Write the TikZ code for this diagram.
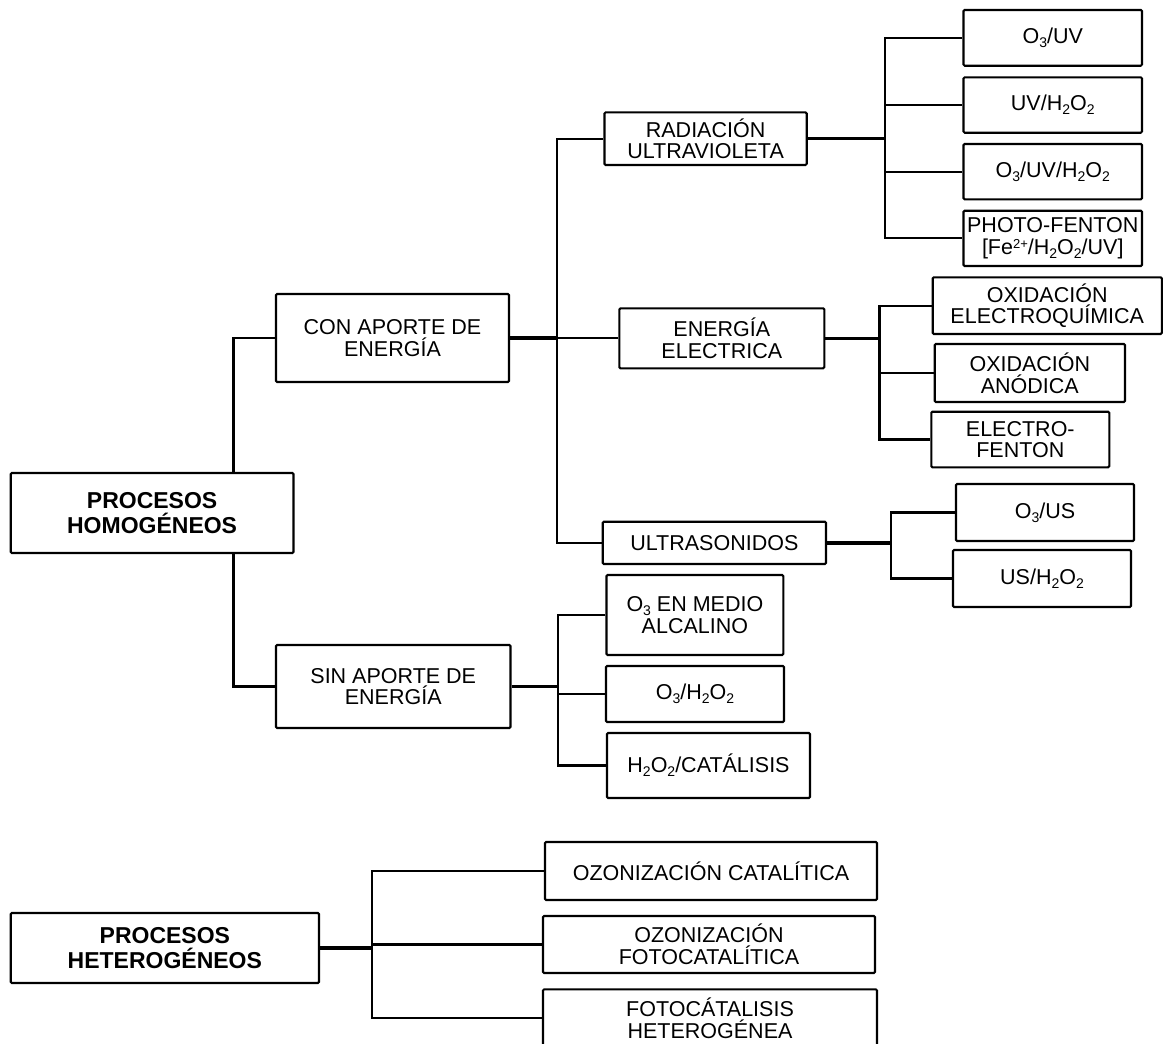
\documentclass[tikz,border=0pt]{standalone}
\usepackage{fontspec}
\setmainfont{Liberation Sans}

% chemical indices
\newcommand\subidx[1]{\raisebox{-4pt}{\fontsize{14}{14}\selectfont #1}}
\newcommand\supidx[1]{\raisebox{5.5pt}{\fontsize{13}{13}\selectfont #1}}

\tikzset{
  box/.style={draw, line width=2.1pt, rounded corners=1.2pt, align=center,
    inner sep=0pt, font=\fontsize{21.5}{21.7}\selectfont},
  boldbox/.style={box, font=\fontsize{23}{25}\selectfont\bfseries},
  link/.style={line width=2.1pt},
  trunkline/.style={line width=3.5pt},
  midlink/.style={line width=2.7pt},
}

% box given by its corners (x1,y1) and (x2,y2)
\newcommand\bx[7][box]{%
  \node[#1, minimum width={#5pt-#3pt}, minimum height={#6pt-#4pt}]
    (#2) at ({(#3+#5)/2},{(#4+#6)/2}) {#7};}

\begin{document}
\begin{tikzpicture}[x=1pt,y=-1pt]
\fill[white] (0,0) rectangle (1163,1044);
\useasboundingbox (0,0) rectangle (1163,1044);

% homogeneous processes
\bx[boldbox]{hom}{10.7}{473}{293.5}{553}{PROCESOS\\HOMOGÉNEOS}
\bx{con}{276}{294}{509}{382}{CON APORTE DE\\ENERGÍA}
\bx{sin}{276}{645}{510.5}{728}{SIN APORTE DE\\ENERGÍA}

\bx{rad}{604.5}{112.3}{806.7}{165}{RADIACIÓN\\ULTRAVIOLETA}
\bx{ene}{619.3}{308.3}{824.3}{368.3}{ENERGÍA\\ELECTRICA}
\bx{ult}{602.7}{521.7}{826}{564}{ULTRASONIDOS}

\bx{o3uv}{963.5}{10}{1142}{65.7}{O\subidx{3}/UV}
\bx{uvh}{963.5}{77.3}{1142}{132.7}{UV/H\subidx{2}O\subidx{2}}
\bx{o3uvh}{963.5}{144}{1142}{199.3}{O\subidx{3}/UV/H\subidx{2}O\subidx{2}}
\bx{pf}{963.5}{210.7}{1142}{266}{PHOTO-FENTON\\{}[Fe\supidx{2+}/H\subidx{2}O\subidx{2}/UV]}

\bx{eq}{932.7}{277.3}{1161.8}{334}{OXIDACIÓN\\ELECTROQUÍMICA}
\bx{an}{934.7}{344}{1125}{402}{OXIDACIÓN\\ANÓDICA}
\bx{ef}{931.3}{411.7}{1109.3}{467.3}{ELECTRO-\\FENTON}

\bx{o3us}{956}{484}{1134}{541}{O\subidx{3}/US}
\bx{ush}{953}{550}{1131}{607}{US/H\subidx{2}O\subidx{2}}

\bx{alc}{606.5}{575}{783.3}{655}{O\subidx{3} EN MEDIO\\ALCALINO}
\bx{o3h}{606}{666}{784}{722}{O\subidx{3}/H\subidx{2}O\subidx{2}}
\bx{cat}{607}{733}{810}{798}{H\subidx{2}O\subidx{2}/CATÁLISIS}

% heterogeneous processes
\bx[boldbox]{het}{10.7}{913}{319}{983}{PROCESOS\\HETEROGÉNEOS}
\bx{oc}{545}{842}{877}{900}{OZONIZACIÓN CATALÍTICA}
\bx{of}{543}{916}{875}{973}{OZONIZACIÓN\\FOTOCATALÍTICA}
\bx{fh}{543}{989.3}{877}{1047}{FOTOCÁTALISIS\\HETEROGÉNEA}

% branch columns
\coordinate (hx) at (233.5,0);
\coordinate (cx) at (557,0);
\coordinate (rx) at (885,0);
\coordinate (ex) at (879.5,0);
\coordinate (ux) at (891,0);
\coordinate (sx) at (558,0);
\coordinate (tx) at (372,0);

% homogeneous tree
\draw[link] (hom.north -| hx) |- (con.west);
\draw[link] (hom.south -| hx) |- (sin.west);

\draw[trunkline] (con.east) -- (con.east -| cx);
\draw[link] (rad.west) -| (ult.west -| cx) -- (ult.west);
\draw[link] (ene.west) -- (ene.west -| cx);

\draw[trunkline] (rad.east) -- (rad.east -| rx);
\draw[link] (o3uv.west) -| (pf.west -| rx) -- (pf.west);
\draw[link] (uvh.west) -- (uvh.west -| rx);
\draw[link] (o3uvh.west) -- (o3uvh.west -| rx);

\draw[trunkline] (ene.east) -- (ene.east -| ex);
\draw[link] (eq.west) -| (ef.west -| ex) -- (ef.west);
\draw[midlink] (an.west) -- (an.west -| ex);

\draw[trunkline] (ult.east) -- (ult.east -| ux);
\draw[link] (o3us.west) -| (ush.west -| ux) -- (ush.west);

\draw[trunkline] (sin.east) -- (sin.east -| sx);
\draw[link] (alc.west) -| (cat.west -| sx) -- (cat.west);
\draw[link] (o3h.west) -- (o3h.west -| sx);

% heterogeneous tree
\draw[trunkline] (het.east) -- (het.east -| tx);
\draw[link] (oc.west) -| (fh.west -| tx) -- (fh.west);
\draw[link] (of.west) -- (of.west -| tx);
\end{tikzpicture}
\end{document}
